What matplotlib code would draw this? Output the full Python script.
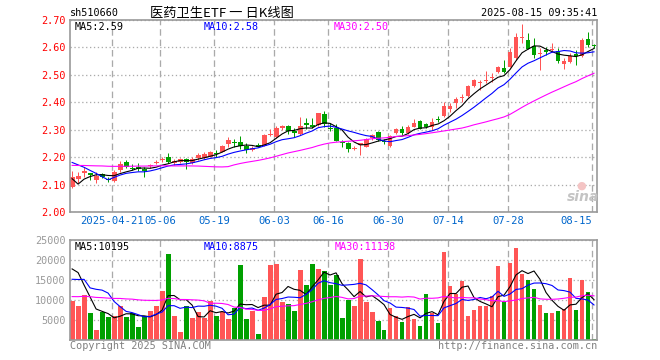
import matplotlib
matplotlib.use("Agg")
import matplotlib.pyplot as plt
import numpy as np
import pandas as pd

# 510660 daily K, 2025-04-10 .. 2025-08-15 (88 sessions)
opens = [2.090, 2.120, 2.141, 2.140, 2.117, 2.137, 2.121, 2.114, 2.153, 2.181,
         2.161, 2.165, 2.155, 2.166, 2.179, 2.190, 2.199, 2.178, 2.183, 2.192,
         2.180, 2.196, 2.196, 2.202, 2.216, 2.220, 2.248, 2.254, 2.256, 2.242,
         2.226, 2.242, 2.241, 2.280, 2.273, 2.306, 2.314, 2.296, 2.284, 2.323,
         2.315, 2.317, 2.357, 2.307, 2.307, 2.254, 2.250, 2.230, 2.244, 2.238,
         2.269, 2.292, 2.258, 2.241, 2.288, 2.301, 2.288, 2.311, 2.333, 2.322,
         2.311, 2.340, 2.350, 2.377, 2.397, 2.416, 2.423, 2.459, 2.470, 2.478,
         2.489, 2.511, 2.524, 2.530, 2.560, 2.634, 2.627, 2.607, 2.577, 2.589,
         2.591, 2.588, 2.540, 2.548, 2.574, 2.568, 2.630, 2.610]
highs = [2.151, 2.147, 2.165, 2.143, 2.147, 2.143, 2.129, 2.153, 2.186, 2.190,
         2.174, 2.178, 2.163, 2.175, 2.190, 2.199, 2.216, 2.193, 2.197, 2.197,
         2.201, 2.216, 2.219, 2.224, 2.226, 2.246, 2.272, 2.265, 2.277, 2.253,
         2.239, 2.250, 2.284, 2.301, 2.314, 2.317, 2.316, 2.305, 2.347, 2.342,
         2.342, 2.361, 2.369, 2.323, 2.320, 2.262, 2.256, 2.239, 2.252, 2.268,
         2.284, 2.295, 2.266, 2.281, 2.306, 2.314, 2.317, 2.338, 2.335, 2.326,
         2.342, 2.350, 2.402, 2.398, 2.418, 2.429, 2.463, 2.484, 2.481, 2.515,
         2.507, 2.532, 2.554, 2.598, 2.651, 2.685, 2.651, 2.633, 2.597, 2.600,
         2.615, 2.597, 2.560, 2.579, 2.591, 2.633, 2.657, 2.612]
lows = [2.086, 2.105, 2.129, 2.117, 2.105, 2.123, 2.110, 2.110, 2.147, 2.159,
        2.153, 2.151, 2.129, 2.160, 2.175, 2.183, 2.178, 2.171, 2.179, 2.156,
        2.175, 2.190, 2.193, 2.199, 2.202, 2.217, 2.238, 2.238, 2.229, 2.214,
        2.222, 2.236, 2.239, 2.277, 2.270, 2.299, 2.284, 2.275, 2.281, 2.301,
        2.305, 2.315, 2.311, 2.296, 2.259, 2.238, 2.220, 2.226, 2.208, 2.237,
        2.264, 2.259, 2.248, 2.237, 2.284, 2.281, 2.284, 2.309, 2.301, 2.305,
        2.299, 2.329, 2.347, 2.366, 2.378, 2.402, 2.420, 2.457, 2.445, 2.469,
        2.474, 2.506, 2.506, 2.529, 2.554, 2.615, 2.593, 2.560, 2.518, 2.572,
        2.584, 2.544, 2.520, 2.542, 2.536, 2.566, 2.603, 2.597]
closes = [2.127, 2.131, 2.151, 2.137, 2.132, 2.129, 2.117, 2.147, 2.175, 2.163,
          2.157, 2.156, 2.151, 2.170, 2.183, 2.194, 2.181, 2.187, 2.192, 2.183,
          2.194, 2.208, 2.211, 2.220, 2.212, 2.241, 2.262, 2.251, 2.241, 2.226,
          2.234, 2.239, 2.281, 2.283, 2.305, 2.314, 2.296, 2.289, 2.314, 2.319,
          2.312, 2.360, 2.321, 2.303, 2.260, 2.251, 2.229, 2.234, 2.250, 2.265,
          2.281, 2.262, 2.254, 2.276, 2.303, 2.287, 2.310, 2.326, 2.304, 2.309,
          2.329, 2.336, 2.386, 2.386, 2.411, 2.420, 2.459, 2.481, 2.473, 2.481,
          2.492, 2.529, 2.511, 2.584, 2.639, 2.639, 2.595, 2.571, 2.580, 2.585,
          2.594, 2.550, 2.550, 2.568, 2.571, 2.627, 2.609, 2.606]
volumes = [9850, 8400, 11360, 6640, 2520, 6900, 5630, 6060, 8580, 5630,
           6740, 3360, 5880, 7320, 8400, 12370, 21460, 6060, 2020, 8580,
           5550, 7070, 5550, 9850, 6060, 7070, 5220, 7900, 18690, 5220,
           7320, 1430, 10860, 18690, 18940, 9420, 9010, 7320, 17420, 13640,
           18940, 17680, 17170, 13800, 16340, 5380, 10100, 8580, 20200, 9600,
           7070, 4800, 2520, 7900, 6060, 4550, 8330, 5220, 3540, 11620,
           6740, 4370, 22040, 13380, 11540, 14650, 5880, 7580, 8580, 8410,
           11110, 18510, 9420, 19270, 23050, 16410, 14900, 12630, 8840, 6640,
           6640, 7320, 7750, 15480, 7580, 14900, 12120, 330]

# sessions before the window, only used to warm up the moving averages
prev_closes = [2.14, 2.15, 2.16, 2.15, 2.14, 2.15, 2.16, 2.17, 2.16, 2.15,
               2.14, 2.15, 2.16, 2.17, 2.18, 2.19, 2.20, 2.19, 2.18, 2.20,
               2.22, 2.24, 2.25, 2.24, 2.25, 2.23, 2.06, 2.09, 2.10]
prev_volumes = [9000, 8500, 9500, 8000, 8800, 9200, 8300, 8700, 9100, 8400,
                8600, 9000, 8200, 8900, 9300, 8500, 8100, 8800, 9000, 7800,
                9000, 11000, 28000, 6000, 9000, 13000, 27000, 21500, 17500]

tick_pos = [7, 15, 24, 34, 43, 53, 63, 73, 87]
tick_labels = ["2025-04-21", "05-06", "05-19", "06-03", "06-16", "06-30",
               "07-14", "07-28", "08-15"]
price_ticks = [2.00, 2.10, 2.20, 2.30, 2.40, 2.50, 2.60, 2.70]
vol_ticks = [5000, 10000, 15000, 20000, 25000]

price_legend = ["MA5:2.59", "MA10:2.58", "MA30:2.50"]
vol_legend = ["MA5:10195", "MA10:8875", "MA30:11138"]

RED = "#ff5555"
GREEN = "#00a000"
MA_COLORS = ["black", "#0000ff", "#ff00ff"]
GRID = "#aaaaaa"
FRAME = "#999999"
MONO = "DejaVu Sans Mono"
PX = 0.72  # one pixel in points at 100 dpi

W, H = 660, 360


def fx(x):
    return x / W


def fy(y):
    return 1 - y / H


o = np.array(opens)
h = np.array(highs)
l = np.array(lows)
c = np.array(closes)
v = np.array(volumes)
n = len(c)
x = np.arange(n)
up = c >= o
colors = np.where(up, RED, GREEN)

full_c = pd.Series(prev_closes + closes)
full_v = pd.Series(prev_volumes + volumes)
k = len(prev_closes)

fig = plt.figure(figsize=(W / 100, H / 100), dpi=100)
fig.patch.set_facecolor("white")

ax = fig.add_axes([fx(70), fy(212), fx(527), 192 / H])
axv = fig.add_axes([fx(70), fy(340), fx(527), 100 / H])

# candles
ax.vlines(x, l, h, colors=colors, lw=PX, zorder=2)
hmin = 0.004
body = np.abs(c - o)
bottom = np.where(body < hmin, (c + o) / 2 - hmin / 2, np.minimum(c, o))
ax.bar(x, np.maximum(body, hmin), bottom=bottom, width=0.82, color=colors,
       linewidth=0, zorder=2)

for win, col in zip([5, 10, 30], MA_COLORS):
    ma = full_c.rolling(win).mean().iloc[k:].values
    ax.plot(x, ma, color=col, lw=0.8, zorder=3)

# volume
axv.bar(x, v, width=0.82, color=colors, linewidth=0, zorder=2)
for win, col in zip([5, 10, 30], MA_COLORS):
    ma = full_v.rolling(win).mean().iloc[k:].values
    axv.plot(x, ma, color=col, lw=0.8, zorder=3)

grid_x = [p - 0.33 for p in tick_pos]
for a in (ax, axv):
    a.set_xlim(-0.35, n - 0.5)
    for gx in grid_x:
        a.axvline(gx, color=GRID, lw=PX * 1.3, dashes=(5, 3), zorder=1)
    a.grid(axis="y", color=GRID, lw=PX * 1.3, linestyle=(0, (1, 2)), zorder=1)
    a.set_axisbelow(True)
    for s in a.spines.values():
        s.set_color(FRAME)
        s.set_linewidth(1.2)
    a.tick_params(length=0)

ax.set_ylim(2.0, 2.7)
ax.set_yticks(price_ticks)
ax.set_yticklabels([f"{t:.2f}" for t in price_ticks], color="red",
                   family=MONO, fontsize=7.3)
ax.tick_params(axis="y", pad=3)
ax.set_xticks(grid_x)
ax.set_xticklabels(tick_labels, color="#0066cc", family=MONO, fontsize=7.6)
ax.tick_params(axis="x", pad=3)
ax.get_xticklabels()[-1].set_horizontalalignment("right")

axv.set_ylim(0, 25000)
axv.set_yticks(vol_ticks)
axv.set_yticklabels([str(t) for t in vol_ticks], color="#999999",
                    family=MONO, fontsize=7.3)
axv.tick_params(axis="y", pad=3)
axv.set_xticks([])

# header
fig.text(fx(70), fy(13), "sh510660", family=MONO, fontsize=7.3,
         va="center", ha="left")
fig.text(fx(150), fy(13), "医药卫生ETF 一 日K线图",
         family=["Noto Sans CJK SC", "DejaVu Sans"], fontsize=9.5,
         va="center", ha="left")
fig.text(fx(597), fy(13), "2025-08-15 09:35:41", family=MONO, fontsize=7.3,
         va="center", ha="right")

# legends
for txt, col, px in zip(price_legend, MA_COLORS, [75, 204, 334]):
    fig.text(fx(px), fy(27), txt, color=col, family=MONO, fontsize=7.3,
             va="center", ha="left")
for txt, col, px in zip(vol_legend, MA_COLORS, [75, 204, 335]):
    fig.text(fx(px), fy(247), txt, color=col, family=MONO, fontsize=7.3,
             va="center", ha="left")

# footer
fig.text(fx(70), fy(346), "Copyright 2025 SINA.COM", color="#808080",
         family=MONO, fontsize=7.3, va="center", ha="left")
fig.text(fx(597), fy(346), "http://finance.sina.com.cn", color="#808080",
         family=MONO, fontsize=7.3, va="center", ha="right")

# watermark
fig.text(fx(583), fy(197), "sina", color="#c4c4c4", fontsize=10,
         style="italic", weight="bold", va="center", ha="center")
fig.text(fx(581), fy(186), "●", color="#f4c4c4", fontsize=8,
         va="center", ha="center")

fig.savefig("out.png", dpi=100, facecolor="white")
